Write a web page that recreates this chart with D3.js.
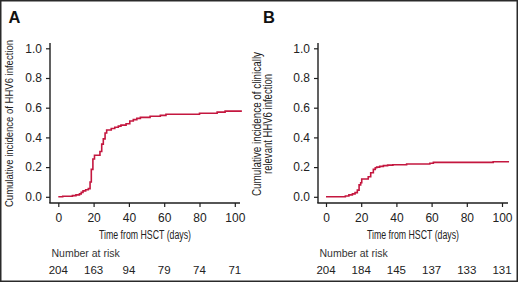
<!DOCTYPE html>
<html>
<head>
<meta charset="utf-8">
<script src="https://cdn.jsdelivr.net/npm/d3@7"></script>
<style>
  html, body { margin: 0; padding: 0; background: #fff; }
  svg { display: block; }
  text { font-family: "Liberation Sans", Arial, sans-serif; fill: #222; }
  .cond { font-family: "Liberation Sans Narrow", "Arial Narrow", "Liberation Sans", sans-serif; }
</style>
</head>
<body>
<svg id="chart" width="520" height="283"></svg>
<script>
// ---- data ----
const xTicks = [0, 20, 40, 60, 80, 100];
const yTicks = [0.0, 0.2, 0.4, 0.6, 0.8, 1.0];

const daysA   = [0, 2.5, 8, 10, 12, 13, 14, 15.5, 17, 18, 18.7, 19.6, 20.5, 23.6, 24.6, 25.5, 26.5, 27.4, 30, 32, 34, 35.5, 38.4, 40.5, 42.5, 44.5, 46.5, 52, 57.8, 61, 80, 90, 94.5, 104];
const valuesA = [0, 0.004, 0.008, 0.013, 0.02, 0.03, 0.04, 0.047, 0.055, 0.1, 0.185, 0.255, 0.28, 0.305, 0.355, 0.39, 0.43, 0.45, 0.46, 0.468, 0.476, 0.483, 0.492, 0.51, 0.52, 0.528, 0.535, 0.542, 0.548, 0.556, 0.563, 0.57, 0.577, 0.577];

const daysB   = [0, 11, 13, 15, 16.5, 17.8, 18.8, 19.7, 20.3, 24, 25.4, 26.9, 28, 28.8, 30.5, 32.6, 35, 38, 45.8, 59, 61, 95, 104];
const valuesB = [0, 0.005, 0.013, 0.02, 0.028, 0.045, 0.08, 0.095, 0.12, 0.135, 0.162, 0.185, 0.196, 0.2, 0.205, 0.21, 0.213, 0.216, 0.221, 0.226, 0.232, 0.236, 0.236];

const atRiskA = [204, 163, 94, 79, 74, 71];
const atRiskB = [204, 184, 145, 137, 133, 131];

const panels = [
  { label: "A", ox: 0, days: daysA, values: valuesA, risk: atRiskA,
    yTitle: ["Cumulative incidence of HHV6 infection"], yTitleLen: [167] },
  { label: "B", ox: 268, days: daysB, values: valuesB, risk: atRiskB,
    yTitle: ["Cumulative incidence of clinically", "relevant HHV6 infection"], yTitleLen: [144, 100] }
];

const svg = d3.select("#chart");
const red = "#c4173f";
const axisCol = "#1e1e1e";

// outer frame
svg.append("rect").attr("x", 0.75).attr("y", 0.75).attr("width", 516.5).attr("height", 280.5)
  .attr("fill", "none").attr("stroke", "#2a2a2a").attr("stroke-width", 1.5);

panels.forEach((p, i) => {
  const g = svg.append("g").attr("transform", `translate(${p.ox},0)`);
  const axX = 50;
  const x = d3.scaleLinear().domain([0, 100]).range([i === 0 ? 58.3 : 58, i === 0 ? 234.8 : 234]);
  const y = d3.scaleLinear().domain([0, 1]).range([196.8, 48.3]);
  const xAxisY = 203;
  const xEnd = 240;

  // panel label
  g.append("text").attr("x", i === 0 ? 8.5 : -5).attr("y", 23)
    .attr("font-size", 16.5).attr("font-weight", "bold").style("fill", "#111").text(p.label);

  // y axis
  const yAxis = d3.axisLeft(y).tickValues(yTicks).tickFormat(d3.format(".1f")).tickSize(4).tickPadding(4).tickSizeOuter(0);
  const ya = g.append("g").attr("transform", `translate(${axX},0)`).call(yAxis);
  ya.select(".domain").remove();
  ya.selectAll("line").attr("stroke", axisCol).attr("stroke-width", 1.2);
  ya.selectAll("text").attr("font-size", 12).style("fill", "#222").style("font-family", '"Liberation Sans", Arial, sans-serif');
  g.append("line").attr("x1", axX).attr("x2", axX).attr("y1", 43).attr("y2", xAxisY)
    .attr("stroke", axisCol).attr("stroke-width", 1.4);

  // x axis
  const xAxis = d3.axisBottom(x).tickValues(xTicks).tickSize(4).tickPadding(6).tickSizeOuter(0);
  const xa = g.append("g").attr("transform", `translate(0,${xAxisY})`).call(xAxis);
  xa.select(".domain").remove();
  xa.selectAll("line").attr("stroke", axisCol).attr("stroke-width", 1.2);
  xa.selectAll("text").attr("font-size", 12).style("fill", "#222").style("font-family", '"Liberation Sans", Arial, sans-serif');
  g.append("line").attr("x1", axX - 0.7).attr("x2", xEnd).attr("y1", xAxisY).attr("y2", xAxisY)
    .attr("stroke", axisCol).attr("stroke-width", 1.4);

  // x title
  g.append("text").attr("class", "cond").attr("x", (axX + xEnd) / 2).attr("y", 238.5)
    .attr("text-anchor", "middle").attr("font-size", 12.5)
    .attr("textLength", 92).attr("lengthAdjust", "spacingAndGlyphs")
    .text("Time from HSCT (days)");

  // y title
  const yCenter = i === 0 ? 123.5 : 124;
  const baseX = i === 0 ? [12.5] : [-7, 3.5];
  const yFs = i === 0 ? 11.8 : 12.5;
  p.yTitle.forEach((t, k) => {
    g.append("text").attr("class", "cond")
      .attr("transform", `translate(${baseX[k]},${yCenter}) rotate(-90)`)
      .attr("text-anchor", "middle").attr("font-size", yFs)
      .attr("textLength", p.yTitleLen[k]).attr("lengthAdjust", "spacingAndGlyphs")
      .text(t);
  });

  // curve (step)
  const pts = p.days.map((d, j) => [d, p.values[j]]);
  const line = d3.line().x(d => x(d[0])).y(d => y(d[1])).curve(d3.curveStepAfter);
  g.append("path").datum(pts).attr("d", line).attr("fill", "none")
    .attr("stroke", red).attr("stroke-width", 1.6);

  // number at risk
  g.append("text").attr("x", axX + 1.5).attr("y", 256.7).attr("font-size", 10.5)
    .style("fill", "#333").text("Number at risk");
  g.selectAll(".risk").data(p.risk).enter().append("text").attr("class", "risk")
    .attr("x", (d, j) => x(xTicks[j])).attr("y", 274)
    .attr("text-anchor", "middle").attr("font-size", 11.5).style("fill", "#222")
    .text(d => d);
});
</script>
</body>
</html>
